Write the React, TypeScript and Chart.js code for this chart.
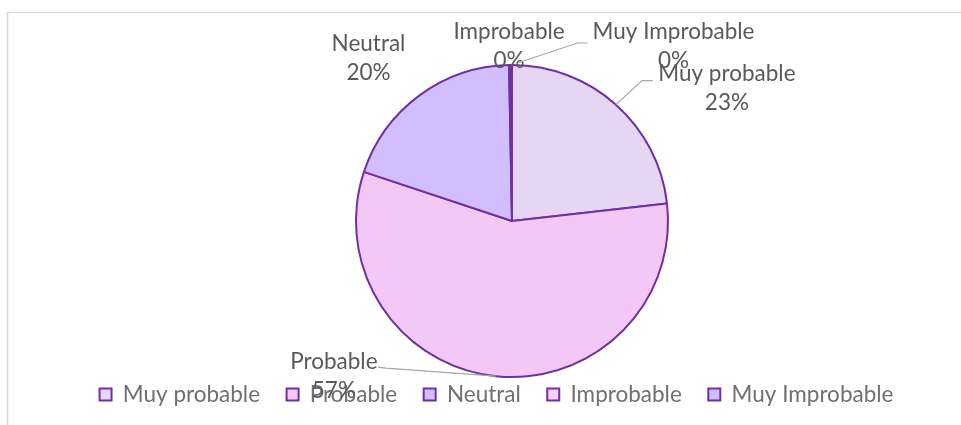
import { useEffect, useRef } from 'react';
import { Chart, registerables } from 'chart.js';

Chart.register(...registerables);

// ---- data ----
const CATEGORIES = ['Muy probable', 'Probable', 'Neutral', 'Improbable', 'Muy Improbable'];
const VALUES = [23.2, 56.9, 19.6, 0.2, 0.1];

// ---- styles ----
const COLORS = ['#E6D6F3', '#F3C7F6', '#D3BEFD', '#FAD0FC', '#D1BBF9'];
const BORDER = '#7030A0';
const FONT = 'Lato, "Open Sans", sans-serif';
const FONT_SIZE = 22.5;
const LEGEND_PAD = 26.5;
// label centre offset from the arc's mid-point on the rim
const LABEL_OFFSETS: [number, number][] = [[111, -16], [-162, 0], [-51, -37], [-1, -18.5], [162, -18.5]];
// leader polyline points relative to the rim mid-point
const LEADERS: ([number, number][] | null)[] = [
  [[0, 0], [26, -24], [37, -24]],
  [[0, 0], [-110, -8], [-118, -9]],
  null,
  null,
  [[6, -2], [66, -22], [76, -22]],
];

const framePlugin = {
  id: 'frameAndLegend',
  beforeDraw(chart: any) {
    const ctx = chart.ctx;
    ctx.save();
    ctx.strokeStyle = '#D9D9D9';
    ctx.lineWidth = 1.5;
    ctx.beginPath();
    ctx.moveTo(7.5, chart.height);
    ctx.lineTo(7.5, 12.5);
    ctx.lineTo(chart.width, 12.5);
    ctx.stroke();
    ctx.restore();
    const lg = chart.legend;
    if (lg) {
      lg.top = 394.5 - LEGEND_PAD - FONT_SIZE / 2;
      lg.bottom = chart.height;
      lg.height = lg.bottom - lg.top;
      lg.left = 0;
      lg.right = 993;
      lg.width = 993;
    }
  },
};

const labelPlugin = {
  id: 'pieLabels',
  afterDatasetsDraw(chart: any) {
    const ctx = chart.ctx;
    const meta = chart.getDatasetMeta(0);
    const data = chart.data.datasets[0].data as number[];
    const total = data.reduce((a, b) => a + b, 0);
    ctx.save();
    ctx.font = `${FONT_SIZE}px ${FONT}`;
    ctx.textAlign = 'center';
    ctx.textBaseline = 'middle';
    meta.data.forEach((arc: any, i: number) => {
      const { x, y, startAngle, endAngle, outerRadius } = arc.getProps(
        ['x', 'y', 'startAngle', 'endAngle', 'outerRadius'],
        true
      );
      const mid = (startAngle + endAngle) / 2;
      const ax = x + Math.cos(mid) * outerRadius;
      const ay = y + Math.sin(mid) * outerRadius;
      const leader = LEADERS[i];
      if (leader) {
        ctx.strokeStyle = '#A6A6A6';
        ctx.lineWidth = 1.2;
        ctx.beginPath();
        leader.forEach(([dx, dy], k) => {
          if (k === 0) ctx.moveTo(ax + dx, ay + dy);
          else ctx.lineTo(ax + dx, ay + dy);
        });
        ctx.stroke();
      }
      const [ox, oy] = LABEL_OFFSETS[i];
      const lx = ax + ox;
      const ly = ay + oy;
      const pct = Math.round((data[i] / total) * 100) + '%';
      ctx.fillStyle = '#595959';
      ctx.fillText(chart.data.labels[i], lx, ly - 14.5);
      ctx.fillText(pct, lx, ly + 14.5);
    });
    ctx.restore();
  },
};

export default function App() {
  const ref = useRef<HTMLCanvasElement>(null);
  useEffect(() => {
    const chart = new Chart(ref.current as HTMLCanvasElement, {
      type: 'pie',
      data: {
        labels: CATEGORIES,
        datasets: [
          {
            data: VALUES,
            backgroundColor: COLORS,
            borderColor: BORDER,
            borderWidth: 2,
          },
        ],
      },
      options: {
        animation: false,
        responsive: false,
        events: [],
        radius: 156,
        layout: { padding: { left: 63, right: 0, top: 28, bottom: 10 } },
        plugins: {
          tooltip: { enabled: false },
          legend: {
            position: 'bottom',
            maxHeight: 1,
            labels: {
              boxWidth: 12,
              boxHeight: 12,
              padding: LEGEND_PAD,
              color: '#707070',
              font: { family: FONT, size: FONT_SIZE },
            },
          },
        },
      } as any,
      plugins: [framePlugin, labelPlugin],
    });
    return () => chart.destroy();
  }, []);
  return (
    <div style={{ position: 'fixed', left: 0, top: 0, width: 961, height: 425, background: '#fff' }}>
      <canvas ref={ref} width={961} height={425} style={{ display: 'block' }} />
    </div>
  );
}
